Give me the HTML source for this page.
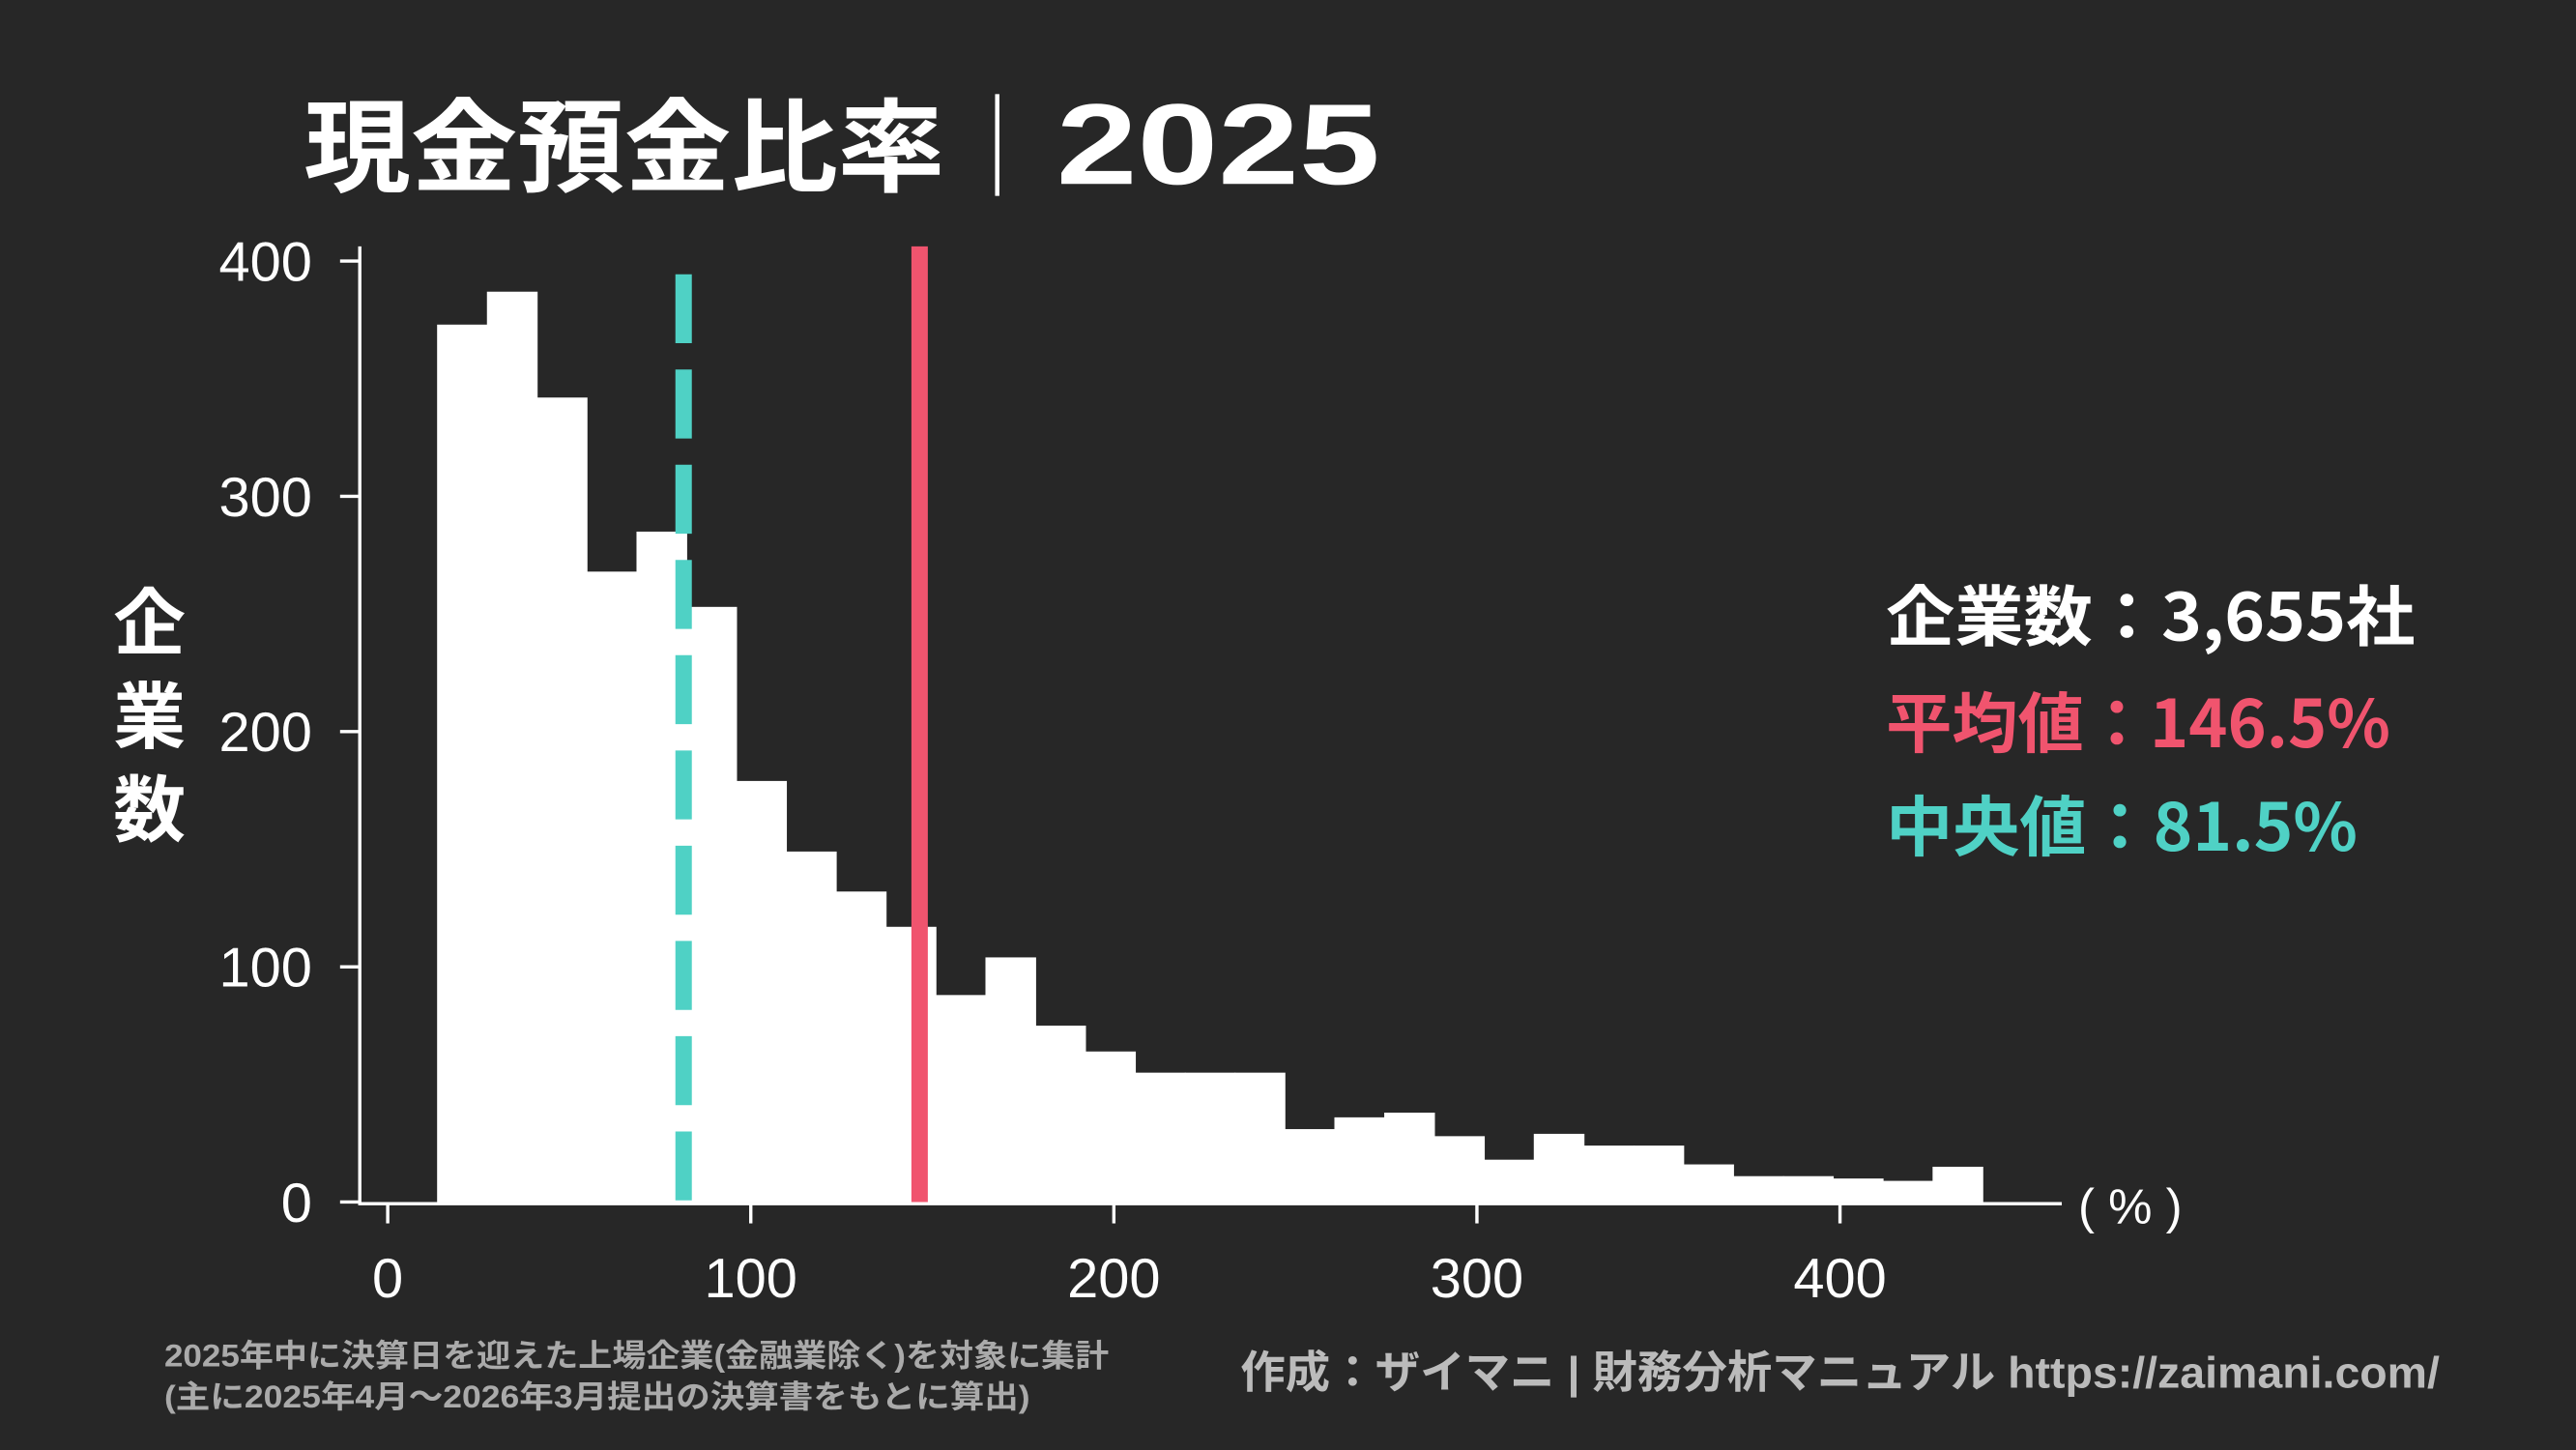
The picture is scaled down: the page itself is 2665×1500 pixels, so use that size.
<!DOCTYPE html>
<html><head><meta charset="utf-8"><style>
html,body{margin:0;padding:0;background:#272727;}
svg{display:block;font-family:"Liberation Sans","Noto Sans CJK JP",sans-serif;}
</style></head><body>
<svg id="chart" width="2665" height="1500" viewBox="0 0 1568 883" preserveAspectRatio="none">
<rect width="1568" height="883" fill="#272727"/>
<g fill="#fff" font-weight="bold">
<text x="185" y="112" font-size="62" textLength="390" lengthAdjust="spacingAndGlyphs" font-family="'Noto Sans CJK JP',sans-serif">現金預金比率</text>
<text x="576" y="112" font-size="62" font-weight="normal" font-family="'Noto Sans CJK JP',sans-serif">｜</text>
<text x="643" y="112" font-size="70" textLength="197" lengthAdjust="spacingAndGlyphs" font-family="'Liberation Sans',sans-serif">2025</text>
</g>
<g id="bars"></g>
<g id="axes"></g>
<text fill="#fff" font-size="44" font-weight="bold" text-anchor="middle" font-family="'Noto Sans CJK JP',sans-serif"><tspan x="91" y="395">企</tspan><tspan x="91" y="452">業</tspan><tspan x="91" y="509">数</tspan></text>
<text x="1265" y="745" fill="#fff" font-size="30">( % )</text>
<g font-size="40" font-weight="bold" font-family="'Noto Sans CJK JP','Liberation Sans',sans-serif">
<text x="1148" y="390" fill="#fff" textLength="322" lengthAdjust="spacingAndGlyphs">企業数：3,655社</text>
<text x="1148" y="455" fill="#f0546e" textLength="307" lengthAdjust="spacingAndGlyphs">平均値：146.5%</text>
<text x="1148" y="518" fill="#4fd1c5" textLength="287" lengthAdjust="spacingAndGlyphs">中央値：81.5%</text>
</g>
<text x="100" y="832" fill="#aaa" font-size="19" font-weight="bold" textLength="575" lengthAdjust="spacingAndGlyphs">2025年中に決算日を迎えた上場企業(金融業除く)を対象に集計</text>
<text x="100" y="857" fill="#aaa" font-size="19" font-weight="bold" textLength="527" lengthAdjust="spacingAndGlyphs">(主に2025年4月～2026年3月提出の決算書をもとに算出)</text>
<text x="755" y="845" fill="#bbb" font-size="27" font-weight="bold" textLength="730" lengthAdjust="spacingAndGlyphs">作成：ザイマニ | 財務分析マニュアル https://zaimani.com/</text>
</svg>
<script>
const binStart = 13.6;
const binWidth = 13.73;
const counts = [373,387,342,268,285,253,179,149,132,117,88,104,75,64,55,55,55,31,36,38,28,18,29,24,24,16,11,11,10,9,15];
const yTicks = [0,100,200,300,400];
const xTicks = [0,100,200,300,400];
const meanValue = 146.5;
const medianValue = 81.5;

const NS="http://www.w3.org/2000/svg";
const X0=236, XS=2.21, Y0=732, YS=1.4325;
const xs=v=>X0+v*XS, ys=v=>Y0-v*YS;
const bars=document.getElementById('bars'), axes=document.getElementById('axes');
function mk(tag,attrs,parent){const e=document.createElementNS(NS,tag);for(const k in attrs)e.setAttribute(k,attrs[k]);parent.appendChild(e);return e;}
counts.forEach((c,i)=>{
  const a=xs(binStart+i*binWidth), b=xs(binStart+(i+1)*binWidth);
  const r=mk('rect',{x:a,y:ys(c),width:b-a+0.5,height:ys(0)-ys(c),fill:'#fff'},bars);
  
  
});
const mean=mk('line',{x1:xs(meanValue),x2:xs(meanValue),y1:150,y2:732,stroke:'#f0546e','stroke-width':10},bars);


const med=mk('line',{x1:xs(medianValue),x2:xs(medianValue),y1:167,y2:732,stroke:'#4fd1c5','stroke-width':10,'stroke-dasharray':'42 16'},bars);


const ya=mk('line',{x1:219,x2:219,y1:150,y2:733,stroke:'#fff','stroke-width':2},axes);


const xa=mk('line',{x1:218,x2:1255,y1:733,y2:733,stroke:'#fff','stroke-width':2},axes);


yTicks.forEach(t=>{
  mk('line',{x1:207,x2:219,y1:ys(t),y2:ys(t),stroke:'#fff','stroke-width':2},axes);
  const l=mk('text',{x:190,y:ys(t)+12,fill:'#fff','font-size':34,'text-anchor':'end'},axes);
  l.textContent=t;
  
  
});
xTicks.forEach(t=>{
  mk('line',{x1:xs(t),x2:xs(t),y1:733,y2:745,stroke:'#fff','stroke-width':2},axes);
  const l=mk('text',{x:xs(t),y:790,fill:'#fff','font-size':34,'text-anchor':'middle'},axes);
  l.textContent=t;
  
  
});
</script>
</body></html>
